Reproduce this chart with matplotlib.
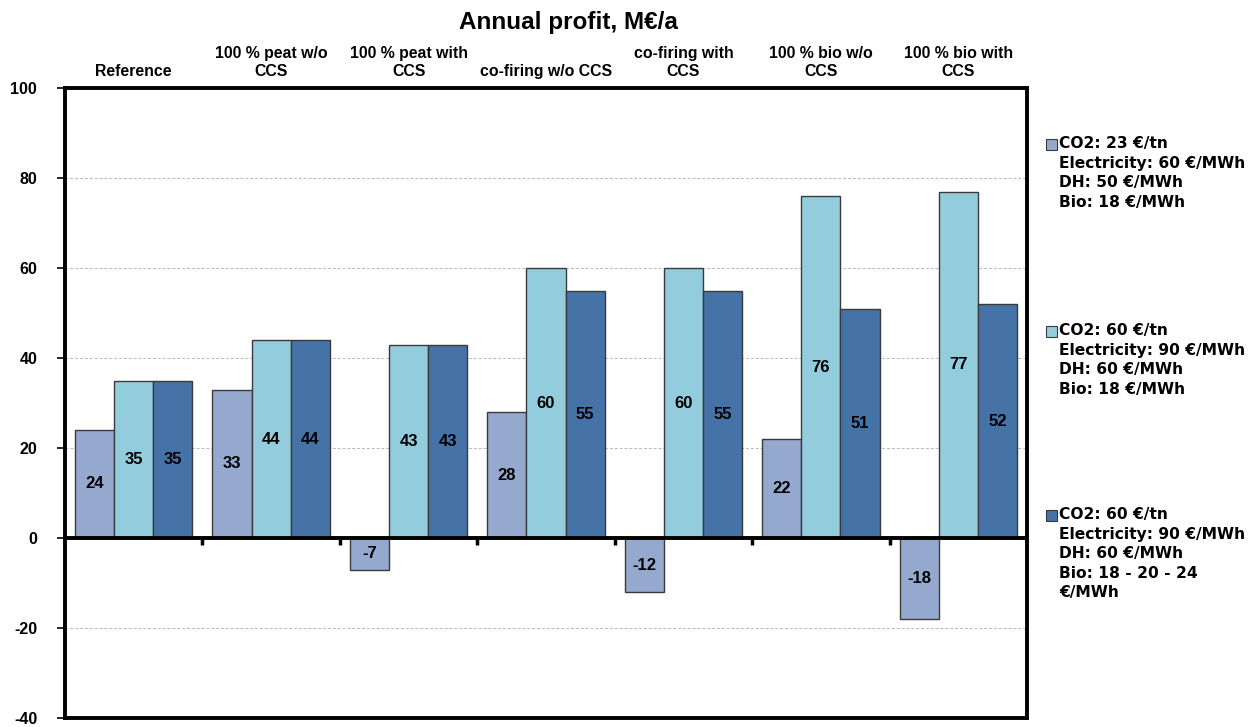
import numpy as np
import matplotlib.pyplot as plt
from matplotlib.patches import Rectangle
from matplotlib.transforms import blended_transform_factory

plt.rcParams['font.family'] = ['Liberation Sans', 'DejaVu Sans']
plt.rcParams['font.weight'] = 'bold'
plt.rcParams['axes.unicode_minus'] = False

# --- Dane ---
categories = ["Reference", "100 % peat w/o\nCCS", "100 % peat with\nCCS", "co-firing w/o CCS",
              "co-firing with\nCCS", "100 % bio w/o\nCCS", "100 % bio with\nCCS"]
profit_low = [24, 33, -7, 28, -12, 22, -18]
profit_high = [35, 44, 43, 60, 60, 76, 77]
profit_high_bio = [35, 44, 43, 55, 55, 51, 52]

legend_labels = [
    "CO2: 23 €/tn\nElectricity: 60 €/MWh\nDH: 50 €/MWh\nBio: 18 €/MWh",
    "CO2: 60 €/tn\nElectricity: 90 €/MWh\nDH: 60 €/MWh\nBio: 18 €/MWh",
    "CO2: 60 €/tn\nElectricity: 90 €/MWh\nDH: 60 €/MWh\nBio: 18 - 20 - 24\n€/MWh",
]
colors = ["#95a9cf", "#93cddd", "#4572a7"]

W, H = 1258, 727

# --- Wykres ---
fig = plt.figure(figsize=(W / 100, H / 100), dpi=100)
ax = fig.add_axes([65 / W, 1 - 718 / H, (1027 - 65) / W, (718 - 88) / H])

x = np.arange(len(categories))
w = 0.285
series = [profit_low, profit_high, profit_high_bio]
for i, (vals, c) in enumerate(zip(series, colors)):
    bars = ax.bar(x + (i - 1) * w, vals, w, color=c, edgecolor="#3a3a3a", linewidth=1.0, zorder=3)
    for b, v in zip(bars, vals):
        ax.text(b.get_x() + b.get_width() / 2, v / 2, f"{v}", ha="center", va="center",
                fontsize=12, fontweight="bold", color="black", zorder=4)

ax.set_xlim(-0.5, len(categories) - 0.5)
ax.set_ylim(-40, 100)
ax.set_yticks(np.arange(-40, 101, 20))
ax.tick_params(axis="y", direction="out", length=6, width=1.2, labelsize=11.5, pad=14)
for lbl in ax.get_yticklabels():
    lbl.set_fontweight("bold")
ax.set_xticks([])

ax.yaxis.grid(True, linestyle=(0, (3, 2)), color="#b8b8b8", linewidth=0.7, zorder=0)
for s in ax.spines.values():
    s.set_linewidth(2.8)
    s.set_color("black")

# Oś zerowa z kreskami między grupami
ax.axhline(0, color="black", linewidth=2.8, zorder=5)
bounds = np.arange(0.5, len(categories) - 1, 1.0)
ax.vlines(bounds, -1.6, 0, color="black", linewidth=2.5, zorder=5)

# Etykiety kategorii nad wykresem
trans = blended_transform_factory(ax.transData, ax.transAxes)
for xi, cat in zip(x, categories):
    ax.text(xi, 1.015, cat, transform=trans, ha="center", va="bottom",
            fontsize=11.4, fontweight="bold", linespacing=1.25)

fig.text(568 / W, 1 - 23 / H, "Annual profit, M€/a", ha="center", va="center",
         fontsize=17.5, fontweight="bold")

# Legenda po prawej
legend_y = [144, 331, 515]
for lab, c, yp in zip(legend_labels, colors, legend_y):
    fy = 1 - yp / H
    fig.patches.append(Rectangle((1046 / W, fy - 5.5 / H), 11 / W, 11 / H,
                                 transform=fig.transFigure, facecolor=c,
                                 edgecolor="#3a3a3a", linewidth=0.8))
    fig.text(1059 / W, fy + 8 / H, lab, ha="left", va="top", family="DejaVu Sans",
             fontsize=11.2, fontweight="bold", linespacing=1.38)

fig.savefig("out.png", dpi=100)
